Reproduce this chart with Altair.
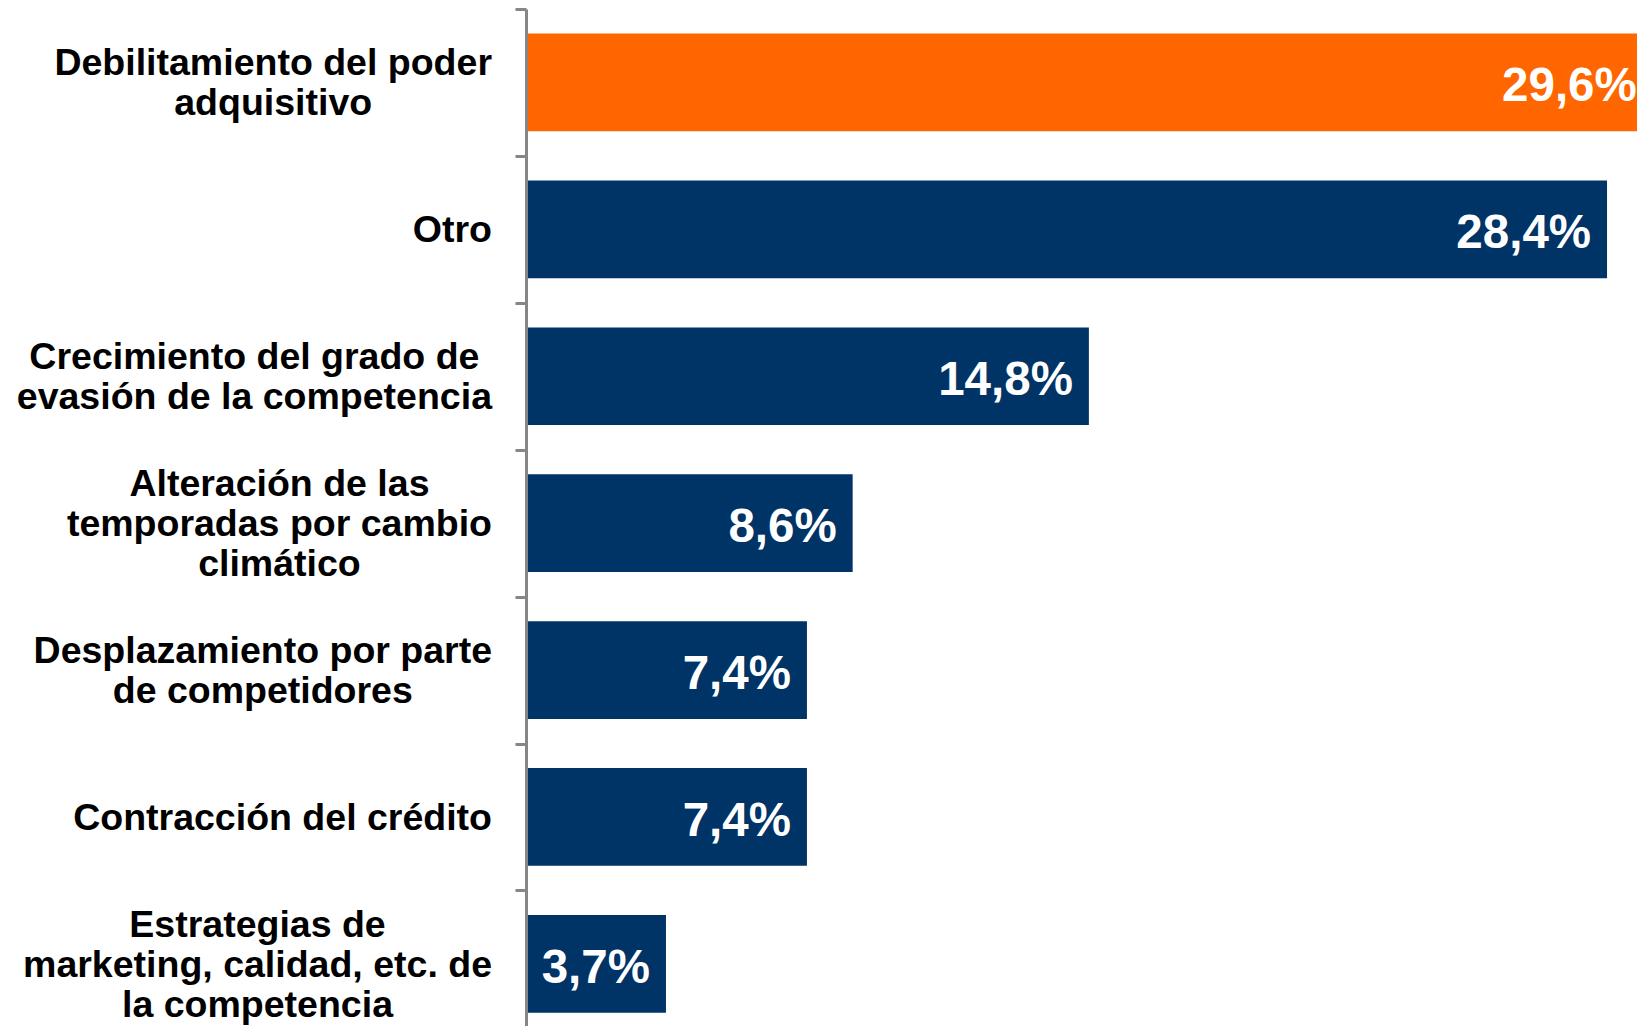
import altair as alt
import pandas as pd

# ---- data ----
label_lines = [
    ["Debilitamiento del poder", "adquisitivo"],
    ["Otro"],
    ["Crecimiento del grado de", "evasión de la competencia"],
    ["Alteración de las", "temporadas por cambio", "climático"],
    ["Desplazamiento por parte", "de competidores"],
    ["Contracción del crédito"],
    ["Estrategias de", "marketing, calidad, etc. de", "la competencia"],
]
values = [29.6, 28.4, 14.8, 8.6, 7.4, 7.4, 3.7]
groups = ["destacado", "resto", "resto", "resto", "resto", "resto", "resto"]

categories = [" ".join(ls) for ls in label_lines]

# Arial / Liberation Sans Bold advance widths (1/1000 em), used to centre
# each multi-line label block on its own width
W = {" ": 278, ",": 278, ".": 278, "%": 889,
     "A": 722, "B": 722, "C": 722, "D": 722, "E": 667, "O": 778,
     "a": 556, "b": 611, "c": 556, "d": 611, "e": 556, "f": 333, "g": 611,
     "h": 611, "i": 278, "j": 278, "k": 556, "l": 278, "m": 889, "n": 611,
     "o": 611, "p": 611, "q": 611, "r": 389, "s": 556, "t": 333, "u": 611,
     "v": 556, "w": 778, "x": 556, "y": 556, "z": 500,
     "á": 556, "é": 556, "í": 278, "ó": 611, "ú": 611}

LABEL_SIZE = 37.5
LINE_H = 40
LABEL_GAP = 33

PAD_LEFT = 517
PLOT_W = 1629 - PAD_LEFT
PLOT_H = 1017
STEP = 146.9
PX_PER_UNIT = 38.1


def text_width(s, size):
    return sum(W.get(ch, 556) for ch in s) * size / 1000.0


df = pd.DataFrame({"cat": categories, "val": values, "grp": groups})
df["lines"] = label_lines
# horizontal centre of each label block (left of the axis)
df["lx"] = [-(LABEL_GAP + max(text_width(l, LABEL_SIZE) for l in ls) / 2.0)
            for ls in label_lines]
# offset of the first line from the band start so the block is centred
df["ldy"] = [STEP / 2.0 - (len(ls) - 1) * LINE_H / 2.0 for ls in label_lines]
df["txt"] = [f"{v:.1f}".replace(".", ",") + "%" for v in values]

yaxis = alt.Axis(title=None, labels=False, grid=False, domainColor="#868686",
                 domainWidth=3, tickColor="#868686", tickWidth=3, tickSize=11,
                 tickBand="extent", zindex=1, offset=-1)
yscale = alt.Scale(paddingInner=0, paddingOuter=0,
                   range=[0, STEP * len(categories)])
yenc = alt.Y("cat:N", sort=categories, scale=yscale, axis=yaxis)

xscale = alt.Scale(domain=[0, PLOT_W / PX_PER_UNIT], nice=False, zero=True)

bars = alt.Chart(df).mark_bar(height={"band": 0.665}).encode(
    x=alt.X("val:Q", scale=xscale, axis=None),
    y=yenc,
    color=alt.Color("grp:N", scale=alt.Scale(domain=["destacado", "resto"],
                                             range=["#FF6600", "#003366"]),
                    legend=None),
)

values_txt = alt.Chart(df).mark_text(
    align="right", baseline="middle", dx=-16, dy=5,
    font="Liberation Sans", fontWeight="bold", fontSize=47.5, color="white",
).encode(
    x=alt.X("val:Q", scale=xscale, axis=None),
    y=yenc,
    text="txt:N",
)

cat_txt = alt.Chart(df).mark_text(
    align="center", baseline="middle", lineHeight=LINE_H, dy=2,
    font="Liberation Sans", fontWeight="bold", fontSize=LABEL_SIZE,
    color="black",
).encode(
    x=alt.X("lx:Q", scale=None, axis=None),
    y=yenc,
    yOffset=alt.YOffset("ldy:Q", scale=None),
    text="lines",
)

chart = alt.layer(bars, values_txt, cat_txt).properties(
    width=PLOT_W,
    height=PLOT_H,
    autosize=alt.AutoSizeParams(type="none"),
    padding={"left": PAD_LEFT, "top": 1, "right": 0, "bottom": 0},
    background="white",
).configure_view(stroke=None)

chart.save("out.html", embed_options={"renderer": "svg", "actions": False})
